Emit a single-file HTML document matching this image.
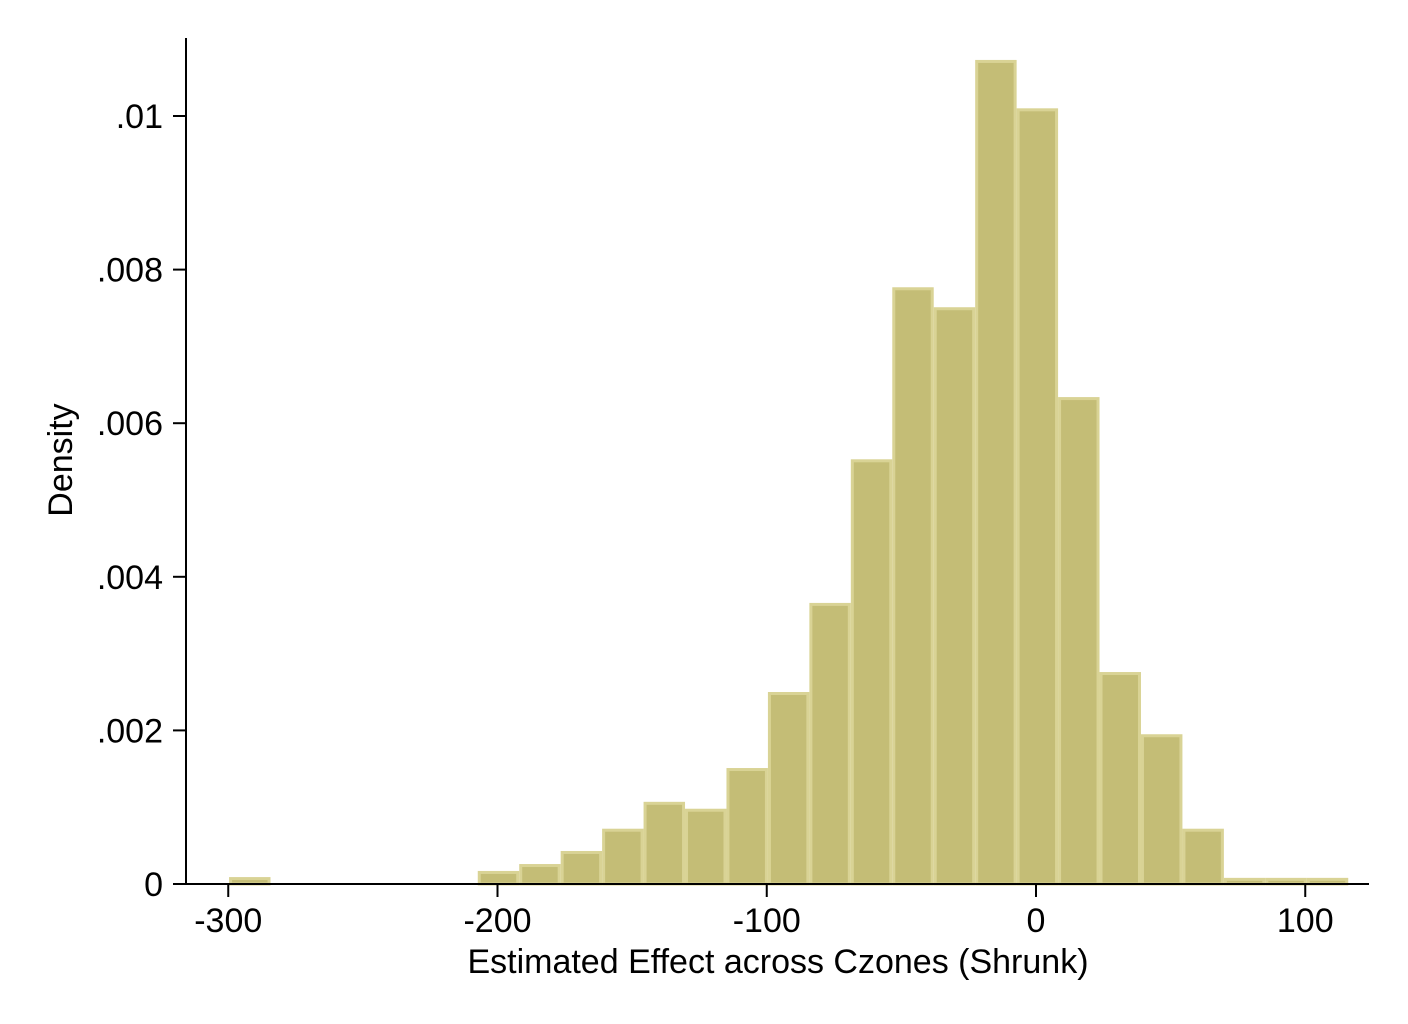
<!DOCTYPE html>
<html><head><meta charset="utf-8"><style>
html,body{margin:0;padding:0;background:#fff;}
svg{display:block;font-family:"Liberation Sans",Arial,sans-serif;}
</style></head><body>
<svg id="chart" width="1408" height="1024" viewBox="0 0 1408 1024">
<rect width="1408" height="1024" fill="#fff"/>
<g id="bars"></g>
<g id="axes"></g>
<text x="72" y="460" font-size="34" text-anchor="middle" transform="rotate(-90 72 460)">Density</text>
<text x="778" y="973" font-size="34" text-anchor="middle">Estimated Effect across Czones (Shrunk)</text>
</svg>
<script>
const binStart = -299.7;
const binWidth = 15.395;
const densities = [0.00009,0,0,0,0,0,0.00017,0.00026,0.00043,0.00072,0.00107,0.00098,0.00151,0.0025,0.00366,0.00553,0.00777,0.00751,0.01073,0.0101,0.00634,0.00276,0.00195,0.00072,0.00008,0.00008,0.00008];
const yTicks = [0,0.002,0.004,0.006,0.008,0.01];
const yTickLabels = ["0",".002",".004",".006",".008",".01"];
const xTicks = [-300,-200,-100,0,100];
const xTickLabels = ["-300","-200","-100","0","100"];

const NS="http://www.w3.org/2000/svg";
const xs = v => 1036 + v*2.6925;
const ys = d => 884 - d*76800;
const bars=document.getElementById('bars'), axes=document.getElementById('axes');
function mk(tag,attrs,parent){const e=document.createElementNS(NS,tag);for(const k in attrs)e.setAttribute(k,attrs[k]);parent.appendChild(e);return e;}
densities.forEach((d,i)=>{
  if(d<=0) return;
  const x0=xs(binStart+i*binWidth), x1=xs(binStart+(i+1)*binWidth);
  const r=mk('rect',{x:x0+1.5,y:ys(d)+1.5,width:x1-x0-3,height:Math.max(884-ys(d)-1.5,0.5),fill:'#c4bd76',stroke:'#d9d395','stroke-width':3},bars);
  
  
});
const ya=mk('line',{x1:186,y1:38,x2:186,y2:884,stroke:'#000','stroke-width':2},axes);


const xa=mk('line',{x1:185,y1:884,x2:1369,y2:884,stroke:'#000','stroke-width':2},axes);


yTicks.forEach((t,i)=>{
  const y=ys(t);
  mk('line',{x1:173,y1:y,x2:186,y2:y,stroke:'#000','stroke-width':2},axes);
  const tx=mk('text',{x:163,y:y+12,'font-size':34,'text-anchor':'end'},axes);
  tx.textContent=yTickLabels[i];
  
  
});
xTicks.forEach((t,i)=>{
  const x=xs(t);
  mk('line',{x1:x,y1:884,x2:x,y2:897,stroke:'#000','stroke-width':2},axes);
  const tx=mk('text',{x:x,y:932,'font-size':34,'text-anchor':'middle'},axes);
  tx.textContent=xTickLabels[i];
  
  
});
</script>
</body></html>
